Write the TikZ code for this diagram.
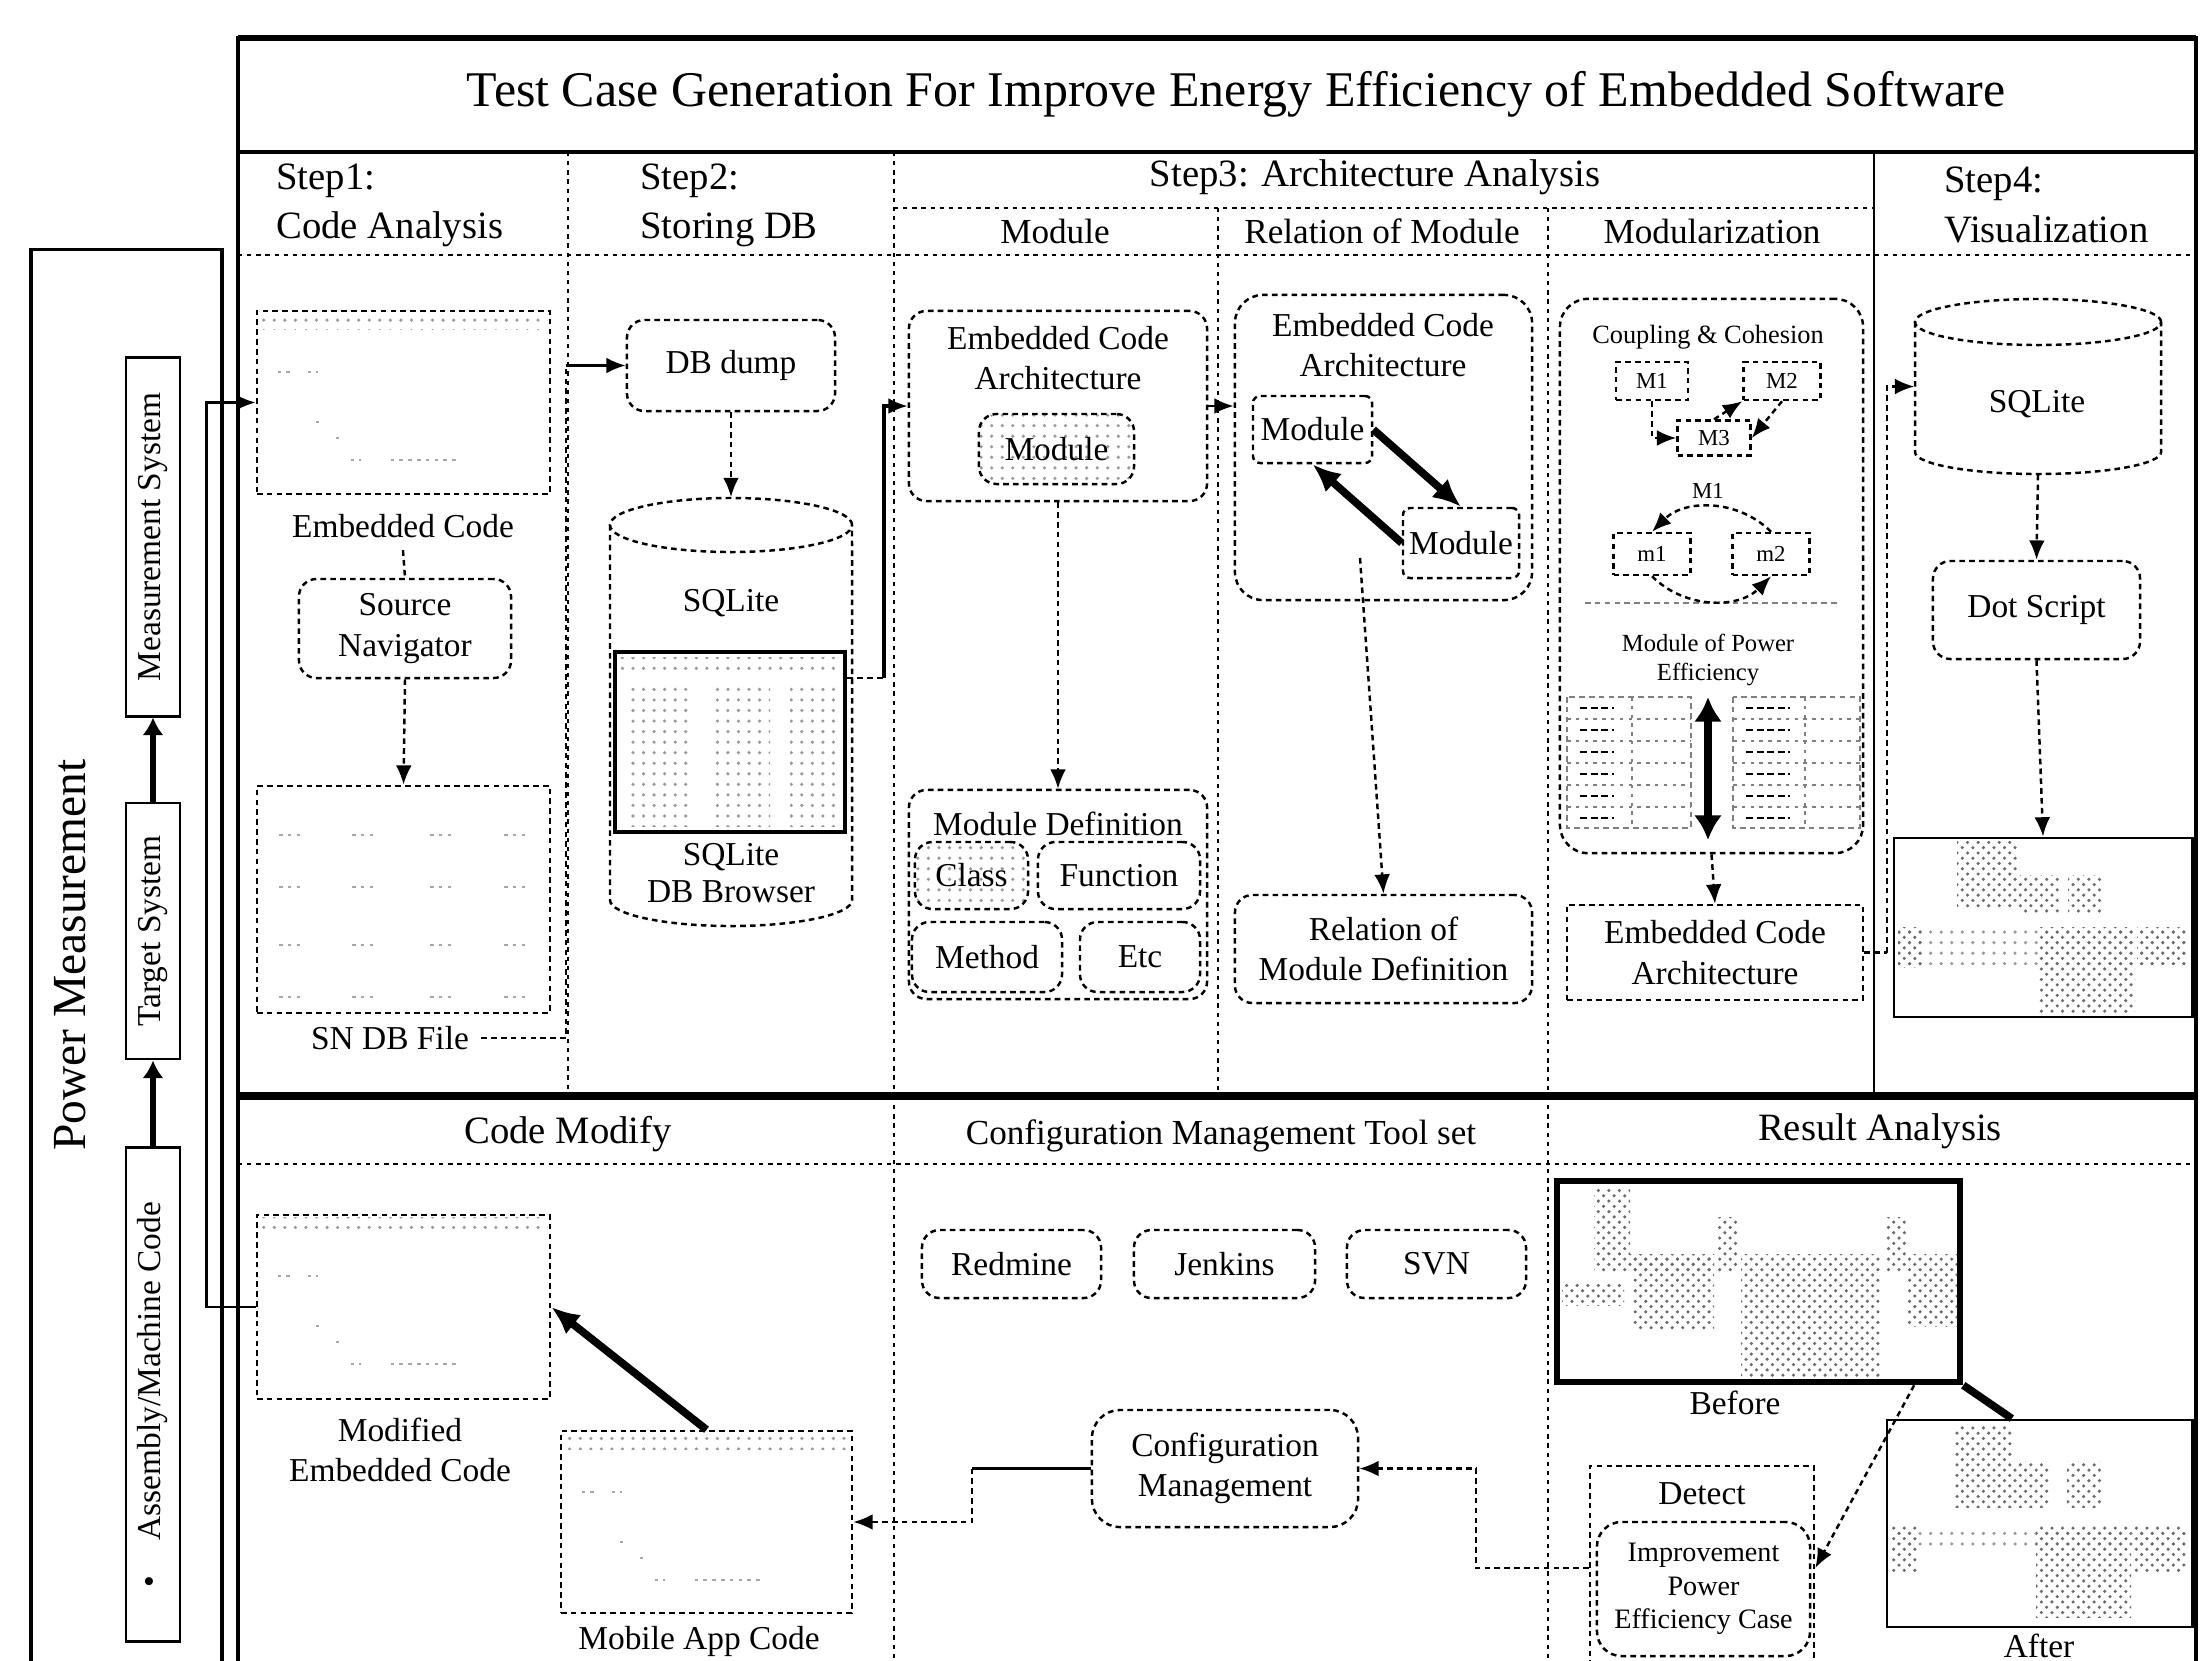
\documentclass[tikz,border=0pt]{standalone}
\usepackage{fontspec}
\setmainfont{Liberation Serif}
\usepackage{graphicx}
\usetikzlibrary{arrows.meta,patterns,calc}

% faint "source code" marks inside a code window
\newcommand\codemarks[1]{%
  \fill[pattern=dots, pattern color=gray!80] ($(#1.north west)+(4,4)$) rectangle ($(#1.north east)+(-4,20)$);
  \draw[gray!70, line width=0.6pt, dash pattern=on 1pt off 1.5pt]
    ($(#1.north west)+(22,62)$) -- ++(14,0)
    ($(#1.north west)+(52,62)$) -- ++(10,0)
    ($(#1.north west)+(60,112)$) -- ++(8,0)
    ($(#1.north west)+(80,128)$) -- ++(8,0)
    ($(#1.north west)+(95,150)$) -- ++(10,0)
    ($(#1.north west)+(135,150)$) -- ++(70,0);
}

\begin{document}
\begin{tikzpicture}[x=0.01cm, y=-0.01cm,
  font=\fontsize{9.5}{11.5}\selectfont,
  dotb/.style={dash pattern=on 1.6pt off 1.2pt, line width=0.7pt},
  gridln/.style={dash pattern=on 1.2pt off 1.4pt, line width=0.8pt},
  bx/.style={draw, dotb, rectangle, inner sep=1pt, align=center},
  rbox/.style={bx, rounded corners=5pt},
  arr/.style={-{Latex[length=5.5pt,width=4.5pt]}},
  conn/.style={dotb, arr},
  bigarrow/.style={line width=2.2pt, -{Latex[length=8pt,width=7pt]}},
  solidbx/.style={draw, line width=0.8pt, rectangle, inner sep=1pt, align=center},
  hdr/.style={font=\fontsize{11}{14}\selectfont, align=left, anchor=west},
  subhdr/.style={font=\fontsize{10}{12}\selectfont},
  tinyt/.style={font=\fontsize{6.5}{7.5}\selectfont},
  lightdots/.style={pattern=dots, pattern color=gray!80},
  darkdots/.style={pattern=crosshatch dots, pattern color=gray!85!black},
]
\path[use as bounding box] (0,0) rectangle (2200,1660);
\clip (0,0) rectangle (2200,1660);

% ---------------- frame and grid ----------------
\draw[line width=1pt] (238,1700) -- (238,38) -- (2196,38) -- (2196,1700);
\draw[line width=1.6pt] (238,38) -- (2196,38);
\draw[line width=0.9pt] (238,152) -- (2196,152);
\draw[gridln] (238,255) -- (2196,255);
\draw[gridln] (894,208) -- (1874,208);
\draw[gridln] (568,152) -- (568,1096);
\draw[gridln] (894,152) -- (894,1096);
\draw[gridln] (1218,208) -- (1218,1096);
\draw[gridln] (1548,208) -- (1548,1096);
\draw[line width=0.8pt] (1874,152) -- (1874,1096);
\draw[line width=2.2pt] (238,1096) -- (2196,1096);
\draw[gridln] (238,1164) -- (2196,1164);
\draw[gridln] (894,1096) -- (894,1700);
\draw[gridln] (1548,1096) -- (1548,1700);

% ---------------- headers ----------------
\node[font=\fontsize{14.2}{16}\selectfont] (title) at (1236,94)
  {Test Case Generation For Improve Energy Efficiency of Embedded Software};
\node[hdr] (h1) at (264,205) {Step1:\\Code Analysis};
\node[hdr] (h2) at (628,205) {Step2:\\Storing DB};
\node[subhdr, font=\fontsize{11}{13}\selectfont] (h3) at (1375,177) {Step3: Architecture Analysis};
\node[subhdr] (h3a) at (1055,231) {Module};
\node[subhdr] (h3b) at (1382,231) {Relation of Module};
\node[subhdr] (h3c) at (1712,231) {Modularization};
\node[hdr] (h4) at (1932,205) {Step4:\\Visualization};
\node[font=\fontsize{11}{13}\selectfont] (h5) at (568,1134) {Code Modify};
\node[subhdr] (h6) at (1221,1136) {Configuration Management Tool set};
\node[font=\fontsize{11}{13}\selectfont] (h7) at (1880,1131) {Result Analysis};

% ---------------- power measurement ----------------
\node[draw, line width=0.9pt, minimum width=1.91cm, minimum height=14.4cm] (pm) at (126.5,970) {};
\node[rotate=90, font=\fontsize{13.5}{15}\selectfont] (pmt) at (70,955) {Power Measurement};
\node[solidbx, minimum width=0.54cm, minimum height=3.58cm, inner sep=0pt] (ms) at (153,537)
  {\rotatebox{90}{Measurement System}};
\node[solidbx, minimum width=0.54cm, minimum height=2.56cm, inner sep=0pt] (ts) at (153,931)
  {\rotatebox{90}{Target System}};
\node[solidbx, minimum width=0.54cm, minimum height=4.93cm, inner sep=0pt] (asm) at (153,1394.5)
  {\rotatebox{90}{\textbullet\hspace{10pt}Assembly/Machine Code}};

% ---------------- step 1 ----------------
\node[bx, minimum width=2.93cm, minimum height=1.83cm] (emb) at (403.5,402.5) {};
\codemarks{emb}
\node (embl) at (403,526) {Embedded Code};
\node[rbox, minimum width=2.12cm, minimum height=0.99cm] (sn) at (405,628.5) {Source\\Navigator};
\node[bx, minimum width=2.93cm, minimum height=2.27cm] (sndb) at (403.5,899.5) {};
\foreach \yy in {835,887,945,997} {
  \foreach \xx in {291,364,442,516} {
    \draw[gray!70, line width=0.6pt, dash pattern=on 1pt off 1.5pt] (\xx-12,\yy) -- (\xx+12,\yy);
  }
}
\node (sndbl) at (390,1038) {SN DB File};

% ---------------- step 2 ----------------
\node[rbox, minimum width=2.08cm, minimum height=0.91cm] (dbd) at (731,365.5) {DB dump};
\node[minimum width=2.42cm, minimum height=4.28cm] (cyl) at (731,712) {};
\draw[dotb] (610,525) -- (610,900) arc[start angle=180, end angle=360, x radius=1.21cm, y radius=0.26cm] -- (852,525);
\draw[dotb] (731,525) ellipse [x radius=1.21cm, y radius=0.27cm];
\node (cylt) at (731,603) {SQLite};
\node[draw, line width=1.3pt, minimum width=2.30cm, minimum height=1.80cm] (dbb) at (730,742) {};
\fill[lightdots] (620,657) rectangle (840,672);
\fill[lightdots] (625,682) rectangle (690,826);
\fill[lightdots] (712,682) rectangle (770,826);
\fill[lightdots] (790,682) rectangle (838,826);
\node[align=center, font=\fontsize{9.5}{10.5}\selectfont] (dbbl) at (731,873) {SQLite\\DB Browser};

% ---------------- step 3: module ----------------
\node[rbox, minimum width=2.98cm, minimum height=1.90cm] (ea1) at (1058,406) {};
\node[align=center] (ea1t) at (1058,358) {Embedded Code\\Architecture};
\node[rbox, lightdots, minimum width=1.55cm, minimum height=0.70cm] (mod1) at (1056.5,449) {Module};
\node[rbox, minimum width=2.98cm, minimum height=2.09cm] (mdef) at (1058,894.5) {};
\node (mdeft) at (1058,824) {Module Definition};
\node[rbox, lightdots, minimum width=1.13cm, minimum height=0.67cm] (cls) at (971.5,875.5) {Class};
\node[rbox, minimum width=1.62cm, minimum height=0.67cm] (fun) at (1119,875.5) {Function};
\node[rbox, minimum width=1.50cm, minimum height=0.70cm] (mth) at (987,957) {Method};
\node[rbox, minimum width=1.20cm, minimum height=0.70cm] (etc) at (1140,957) {Etc};

% ---------------- step 3: relation of module ----------------
\node[rbox, rounded corners=8pt, minimum width=2.97cm, minimum height=3.05cm] (ea2) at (1383.5,447.5) {};
\node[align=center] (ea2t) at (1383,345) {Embedded Code\\Architecture};
\node[bx, rounded corners=2pt, minimum width=1.19cm, minimum height=0.67cm] (rm1) at (1312.5,429.5) {Module};
\node[bx, rounded corners=2pt, minimum width=1.16cm, minimum height=0.70cm] (rm2) at (1461,543) {Module};
\node[rbox, minimum width=2.97cm, minimum height=1.08cm] (rdef) at (1383.5,949) {Relation of\\Module Definition};
\coordinate (rs) at (1360,558);

% ---------------- step 3: modularization ----------------
\node[rbox, rounded corners=8pt, minimum width=3.03cm, minimum height=5.54cm] (mc) at (1711.5,576) {};
\node[tinyt, font=\fontsize{7.5}{9}\selectfont] (coh) at (1708,337) {Coupling \& Cohesion};
\node[bx, tinyt, minimum width=0.72cm, minimum height=0.38cm] (ma) at (1652,381) {M1};
\node[bx, tinyt, minimum width=0.77cm, minimum height=0.38cm] (mb) at (1782,381) {M2};
\node[bx, tinyt, minimum width=0.73cm, minimum height=0.35cm] (mcc) at (1714,438) {M3};
\node[tinyt] (mgl) at (1708,491) {M1};
\node[bx, tinyt, minimum width=0.77cm, minimum height=0.42cm] (mm1) at (1652,554) {m1};
\node[bx, tinyt, minimum width=0.77cm, minimum height=0.42cm] (mm2) at (1771,554) {m2};
\draw[gray, dotb] (1585,603) -- (1838,603);
\node[align=center, font=\fontsize{7}{8.5}\selectfont] (mpe) at (1708,660) {Module of Power\\Efficiency};
% two module tables
\draw[dotb, gray] (1567,697) rectangle (1691,828);
\draw[dotb, gray] (1733,697) rectangle (1860,828);
\foreach \yy in {719,741,763,785,807} {
  \draw[gray, dash pattern=on 1pt off 1.5pt] (1567,\yy) -- (1691,\yy);
  \draw[gray, dash pattern=on 1pt off 1.5pt] (1733,\yy) -- (1860,\yy);
}
\draw[gray, dash pattern=on 1pt off 1.5pt] (1632,697) -- (1632,828);
\draw[gray, dash pattern=on 1pt off 1.5pt] (1805,697) -- (1805,828);
\foreach \yy in {708,730,752,774,796,818} {
  \draw[line width=0.8pt, dash pattern=on 2pt off 1pt] (1580,\yy) -- (1614,\yy);
  \draw[line width=0.8pt, dash pattern=on 2pt off 1pt] (1746,\yy) -- (1790,\yy);
}
\draw[line width=2.4pt, {Latex[length=7pt,width=8pt]}-{Latex[length=7pt,width=8pt]}] (1708,697) -- (1708,840);
\node[bx, minimum width=2.96cm, minimum height=0.95cm] (eca3) at (1715,952.5) {Embedded Code\\Architecture};

% ---------------- step 4 ----------------
\node[minimum width=2.46cm, minimum height=1.75cm] (sql2) at (2038,386.5) {};
\draw[dotb] (1915,322) -- (1915,452) arc[start angle=180, end angle=360, x radius=1.23cm, y radius=0.22cm] -- (2161,322);
\draw[dotb] (2038,322) ellipse [x radius=1.23cm, y radius=0.23cm];
\node (sql2t) at (2037,404) {SQLite};
\node[rbox, minimum width=2.07cm, minimum height=0.98cm] (dots) at (2036.5,610) {Dot Script};
\node[solidbx, minimum width=2.98cm, minimum height=1.79cm] (graph) at (2043,927.5) {};
\fill[darkdots] (1957,841) rectangle (2017,908);
\fill[darkdots] (2017,875) rectangle (2060,912);
\fill[darkdots] (2068,875) rectangle (2103,912);
\fill[lightdots] (1898,927) rectangle (2188,964);
\fill[darkdots] (1898,927) rectangle (1923,967);
\fill[darkdots] (2039,927) rectangle (2135,1013);
\fill[darkdots] (2137,927) rectangle (2186,964);

% ---------------- code modify ----------------
\node[bx, minimum width=2.93cm, minimum height=1.84cm] (modc) at (403.5,1307) {};
\codemarks{modc}
\node[align=center] (modcl) at (400,1450) {Modified\\Embedded Code};
\node[bx, minimum width=2.91cm, minimum height=1.82cm] (mob) at (706.5,1522) {};
\codemarks{mob}
\node (mobl) at (699,1641) {Mobile App Code};

% ---------------- configuration management ----------------
\node[rbox, minimum width=1.79cm, minimum height=0.68cm] (red) at (1011.5,1264) {Redmine};
\node[rbox, minimum width=1.81cm, minimum height=0.68cm] (jen) at (1224.5,1264) {Jenkins};
\node[rbox, minimum width=1.79cm, minimum height=0.68cm] (svn) at (1436.5,1264) {SVN};
\node[rbox, rounded corners=8pt, minimum width=2.66cm, minimum height=1.17cm] (cm) at (1225,1468.5) {Configuration\\Management};

% ---------------- result analysis ----------------
\node[draw, line width=1.8pt, minimum width=4.03cm, minimum height=2.01cm] (bef) at (1758.5,1281.5) {};
\fill[darkdots] (1594,1188) rectangle (1630,1254);
\fill[darkdots] (1594,1254) rectangle (1714,1272);
\fill[darkdots] (1562,1283) rectangle (1624,1305);
\fill[darkdots] (1633,1254) rectangle (1714,1330);
\fill[darkdots] (1718,1217) rectangle (1739,1272);
\fill[darkdots] (1741,1254) rectangle (1880,1377);
\fill[darkdots] (1885,1217) rectangle (1906,1272);
\fill[darkdots] (1908,1254) rectangle (1957,1326);
\node (befl) at (1735,1403) {Before};
\node[solidbx, minimum width=3.05cm, minimum height=2.07cm] (aft) at (2039.5,1523.5) {};
\fill[darkdots] (1954,1426) rectangle (2012,1507);
\fill[darkdots] (2012,1461) rectangle (2049,1507);
\fill[darkdots] (2067,1461) rectangle (2101,1507);
\fill[lightdots] (1890,1526) rectangle (2186,1550);
\fill[darkdots] (1890,1526) rectangle (1918,1573);
\fill[darkdots] (2036,1526) rectangle (2131,1617);
\fill[darkdots] (2134,1526) rectangle (2186,1573);
\node (aftl) at (2039,1646) {After};
\node[draw, dotb, minimum width=2.24cm, minimum height=2.04cm] (det) at (1702,1568) {};
\node (dett) at (1702,1494) {Detect};
\node[rbox, rounded corners=7pt, minimum width=2.13cm, minimum height=1.34cm, font=\fontsize{8}{9.5}\selectfont] (imp) at (1703.5,1589)
  {Improvement\\Power\\Efficiency Case};

% ---------------- connectors ----------------
\draw[line width=1.6pt, -{Latex[length=5pt,width=6pt]}] (asm.north) -- (ts.south);
\draw[line width=1.6pt, -{Latex[length=5pt,width=6pt]}] (ts.north) -- (ms.south);
\draw[line width=0.8pt, arr] (modc.west) -- ++(-49,0) |- (emb.west);

\draw[dotb] (embl.south) -- (sn.north);
\draw[conn] (sn.south) -- (sndb.north);
\coordinate (j1) at (566,365.5);
\draw[dotb] (sndbl.east) -| (j1);
\draw[line width=0.8pt, arr] (j1) -- (dbd.west);
\draw[conn] (dbd.south) -- (cyl.north);
\coordinate (j2) at (884,678);
\draw[dotb] (dbb.east |- j2) -- (j2);
\draw[line width=0.9pt, arr] (j2) |- (ea1.west);

\draw[conn] (ea1.south) -- (mdef.north);
\draw[line width=0.8pt, arr] (ea1.east) -- (ea1.east -| ea2.west);
\draw[bigarrow] (rm1.east) -- (rm2.north);
\draw[bigarrow] (rm2.west) -- (rm1.south);
\draw[conn] (rs) -- (rdef.north);

\draw[dotb, arr] (ma.south) |- (mcc.west);
\draw[dotb, arr] (mcc.north) -- (mb.south west);
\draw[dotb, arr] (mb.south) -- (mcc.east);
\draw[dotb, arr] (mm2.north) to[bend right=45] (mm1.north);
\draw[dotb, arr] (mm1.south) to[bend right=45] (mm2.south);
\draw[conn] (mc.south) -- (eca3.north);
\coordinate (j3) at (1887,952.5);
\draw[dotb] (eca3.east) -- (j3);
\draw[conn] (j3) |- (sql2.west);

\draw[conn] (sql2.south) -- (dots.north);
\draw[conn] (dots.south) -- (graph.north);

\draw[bigarrow] (mob.north) -- (modc.east);
\draw[line width=0.8pt] (cm.west) -- (972,1468.5);
\draw[conn] (972,1468.5) |- (mob.east);
\draw[conn] (det.west) -- (1476,1568) |- (cm.east);
\draw[line width=2.2pt] (bef.south east) -- ($(aft.north west)!0.41!(aft.north east)$);
\draw[conn] ($(bef.south west)!0.88!(bef.south east)$) -- (det.east);
\end{tikzpicture}
\end{document}
